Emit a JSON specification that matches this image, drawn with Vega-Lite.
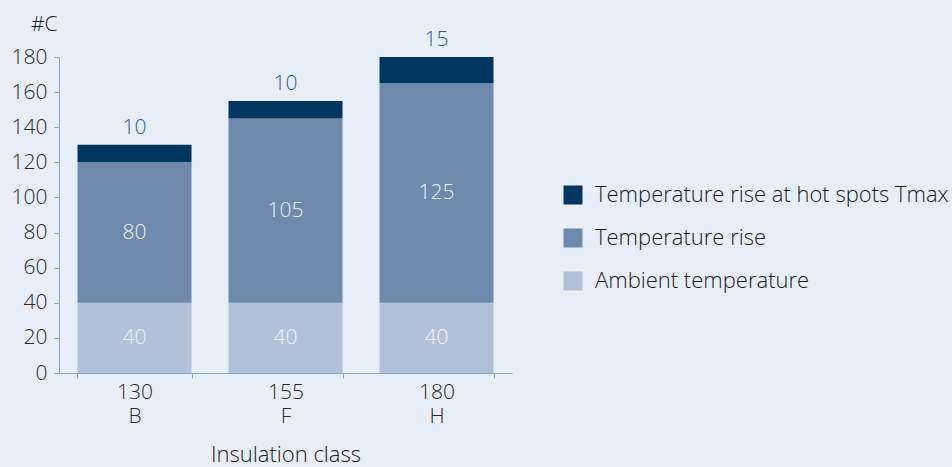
{
  "$schema": "https://vega.github.io/schema/vega-lite/v6.json",
  "autosize": {"type": "none"},
  "padding": {"left": 59, "top": 57, "right": 440, "bottom": 94},
  "width": 453,
  "height": 316,
  "background": "#e8eef7",
  "config": {
    "view": {"stroke": null},
    "font": "Open Sans",
    "axis": {"grid": false, "domainColor": "#7fa9cc", "tickColor": "#7fa9cc", "labelColor": "#2a2a2a", "titleColor": "#1a1a1a", "labelFont": "Open Sans", "titleFont": "Open Sans", "titleFontWeight": 300, "labelFontWeight": 300, "labelOverlap": false},
    "axisY": {"values": [0, 20, 40, 60, 80, 100, 120, 140, 160, 180], "labelOverlap": false, "titleAngle": 0, "titleX": -2, "titleY": -27, "titleAlign": "right", "titleBaseline": "alphabetic", "titleFontSize": 21, "labelFontSize": 21, "tickSize": 5, "labelPadding": 7},
    "legend": {"labelFontWeight": 300}
  },
  "data": {
    "values": [
      {"cls": "130|B", "series": "Ambient temperature", "val": 40},
      {"cls": "130|B", "series": "Temperature rise", "val": 80},
      {"cls": "130|B", "series": "Temperature rise at hot spots Tmax", "val": 10},
      {"cls": "155|F", "series": "Ambient temperature", "val": 40},
      {"cls": "155|F", "series": "Temperature rise", "val": 105},
      {"cls": "155|F", "series": "Temperature rise at hot spots Tmax", "val": 10},
      {"cls": "180|H", "series": "Ambient temperature", "val": 40},
      {"cls": "180|H", "series": "Temperature rise", "val": 125},
      {"cls": "180|H", "series": "Temperature rise at hot spots Tmax", "val": 15}
    ]
  },
  "transform": [
    {"stack": "val", "groupby": ["cls"], "sort": [{"field": "series", "order": "ascending"}], "as": ["v0", "v1"]}
  ],
  "encoding": {
    "x": {
      "field": "cls", "type": "nominal", "sort": null,
      "scale": {"paddingInner": 0.245, "paddingOuter": 0.1225},
      "axis": {
        "title": "Insulation class", "titleFontSize": 22, "titlePadding": 18,
        "labelAngle": 0, "labelFontSize": 21, "labelLineHeight": 24, "labelPadding": 3,
        "labelExpr": "split(datum.label, '|')", "tickBand": "extent", "tickSize": 5
      }
    }
  },
  "layer": [
    {
      "mark": {"type": "bar"},
      "encoding": {
        "y": {
          "field": "v0", "type": "quantitative", "title": "#C",
          "scale": {"domain": [0, 180], "nice": false},
          "axis": {"values": [0, 20, 40, 60, 80, 100, 120, 140, 160, 180], "labelOverlap": false, "title": "#C"}
        },
        "y2": {"field": "v1"},
        "color": {
          "field": "series", "type": "nominal",
          "scale": {
            "domain": ["Temperature rise at hot spots Tmax", "Temperature rise", "Ambient temperature"],
            "range": ["#00365f", "#6f89ad", "#b3c1d8"]
          },
          "legend": {
            "title": null, "orient": "none", "legendX": 503, "legendY": 127,
            "symbolType": "square", "symbolSize": 361, "symbolStrokeWidth": 0, "symbolOpacity": 1,
            "labelFontSize": 22, "labelColor": "#1a1a1a", "labelOffset": 11, "rowPadding": 21, "labelLimit": 420
          }
        }
      }
    },
    {
      "transform": [
        {"filter": "datum.series != 'Temperature rise at hot spots Tmax'"},
        {"fold": ["v0", "v1"], "as": ["k", "pos"]},
        {"aggregate": [{"op": "mean", "field": "pos", "as": "mid"}], "groupby": ["cls", "series", "val"]}
      ],
      "mark": {"type": "text", "fontSize": 21, "fontWeight": 300, "color": "#eef2f8", "baseline": "middle"},
      "encoding": {
        "y": {"field": "mid", "type": "quantitative", "title": "#C",
          "axis": {"values": [0, 20, 40, 60, 80, 100, 120, 140, 160, 180], "labelOverlap": false, "title": "#C"}},
        "text": {"field": "val", "type": "quantitative"}
      }
    },
    {
      "transform": [
        {"filter": "datum.series == 'Temperature rise at hot spots Tmax'"}
      ],
      "mark": {"type": "text", "fontSize": 21, "fontWeight": 300, "color": "#2f5f8c", "baseline": "middle", "dy": -17},
      "encoding": {
        "y": {"field": "v1", "type": "quantitative", "title": "#C",
          "axis": {"values": [0, 20, 40, 60, 80, 100, 120, 140, 160, 180], "labelOverlap": false, "title": "#C"}},
        "text": {"field": "val", "type": "quantitative"}
      }
    }
  ]
}
